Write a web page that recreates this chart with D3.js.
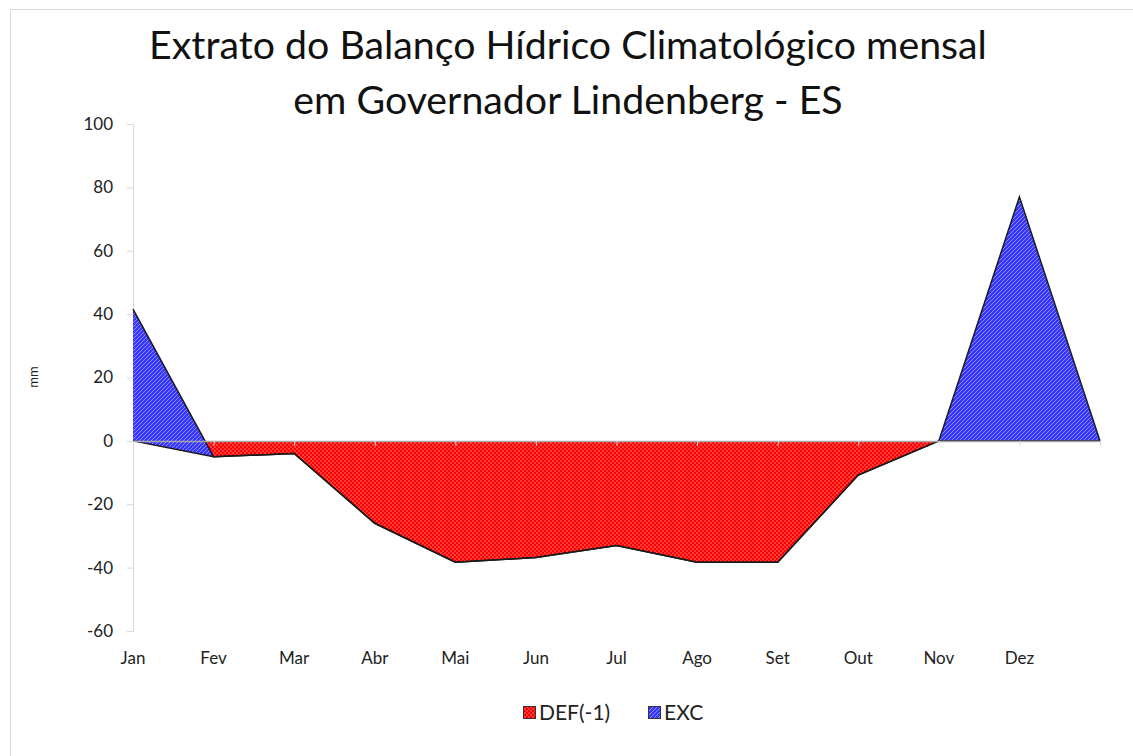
<!DOCTYPE html>
<html>
<head>
<meta charset="utf-8">
<script src="https://cdn.jsdelivr.net/npm/d3@7"></script>
<style>
  body { margin: 0; background: #fff; }
  text { font-family: Lato, "Open Sans", sans-serif; fill: #222; }
</style>
</head>
<body>
<svg id="chart" width="1133" height="756"></svg>
<script>
// months, the last slot is an empty category (Excel row without label)
const categories = ["Jan", "Fev", "Mar", "Abr", "Mai", "Jun", "Jul", "Ago", "Set", "Out", "Nov", "Dez", ""];
const defValues = [0, -5, -4, -26, -38.3, -36.8, -33, -38.3, -38.3, -10.8, 0, 0, 0];
const excValues = [41.6, 0, 0, 0, 0, 0, 0, 0, 0, 0, 0, 77, 0];
const yTicks = [100, 80, 60, 40, 20, 0, -20, -40, -60];
const titleLines = ["Extrato do Balanço Hídrico Climatológico mensal", "em Governador Lindenberg - ES"];
const seriesNames = ["DEF(-1)", "EXC"];

drawChart();

function drawChart () {
  const svg = d3.select("#chart");

  // chart area frame
  svg.append("rect")
    .attr("x", 10.5).attr("y", 9.5)
    .attr("width", 1140).attr("height", 760)
    .attr("fill", "#fff")
    .attr("stroke", "#d9d9d9");

  // fill patterns (coarse checker for DEF, diagonal hatch for EXC)
  const defs = svg.append("defs");
  const redPat = defs.append("pattern")
    .attr("id", "pat-red").attr("patternUnits", "userSpaceOnUse")
    .attr("width", 4).attr("height", 4);
  redPat.append("rect").attr("width", 4).attr("height", 4).attr("fill", "#ff0000");
  redPat.append("rect").attr("x", 0).attr("y", 0).attr("width", 2).attr("height", 2).attr("fill", "#ff3c3c");
  redPat.append("rect").attr("x", 2).attr("y", 2).attr("width", 2).attr("height", 2).attr("fill", "#ff3c3c");
  redPat.selectAll("rect").attr("shape-rendering", "crispEdges");

  const bluePat = defs.append("pattern")
    .attr("id", "pat-blue").attr("patternUnits", "userSpaceOnUse")
    .attr("width", 4).attr("height", 4);
  bluePat.append("rect").attr("width", 4).attr("height", 4).attr("fill", "#3636ff")
    .attr("shape-rendering", "crispEdges");
  bluePat.append("path")
    .attr("d", "M-1,1 L1,-1 M0,4 L4,0 M3,5 L5,3")
    .attr("stroke", "#8c8cff").attr("stroke-width", 1);

  // title
  const title = svg.append("g");
  titleLines.forEach((line, i) => {
    title.append("text")
      .attr("x", 568)
      .attr("y", 59 + i * 55)
      .attr("text-anchor", "middle")
      .style("font-size", "35px")
      .style("fill", "#111")
      .text(line);
  });
  // fit first line to the reference width
  const t0 = title.select("text").node();
  const w0 = t0.getComputedTextLength();
  const fs = 35 * 838 / w0;
  title.selectAll("text").style("font-size", fs + "px");

  const x = d3.scalePoint()
    .domain(d3.range(categories.length))
    .range([133, 1100]);

  const y = d3.scaleLinear()
    .domain([-60, 100])
    .range([631, 124]);

  // y axis
  const yAxis = svg.append("g")
    .attr("transform", "translate(133,0)")
    .call(d3.axisLeft(y).tickValues(yTicks).tickFormat(d => String(d)).tickSize(6).tickPadding(14));
  yAxis.select(".domain").attr("stroke", "#d9d9d9");
  yAxis.selectAll(".tick line").attr("stroke", "#d9d9d9");
  yAxis.selectAll(".tick text")
    .style("font-size", "17px")
    .style("font-family", "Lato, sans-serif")
    .attr("fill", "#222");

  svg.append("text")
    .attr("transform", "translate(38,377) rotate(-90)")
    .attr("text-anchor", "middle")
    .style("font-size", "13px")
    .text("mm");

  // stacked series
  const defTop = defValues;
  const excTop = defValues.map((d, i) => d + excValues[i]);

  const area = d3.area()
    .x((d, i) => x(i))
    .y0(d => y(d[0]))
    .y1(d => y(d[1]));

  const line = d3.line()
    .x((d, i) => x(i))
    .y(d => y(d));

  svg.append("path")
    .datum(defTop.map(d => [0, d]))
    .attr("d", area)
    .attr("fill", "url(#pat-red)");

  svg.append("path")
    .datum(defTop.map((d, i) => [d, excTop[i]]))
    .attr("d", area)
    .attr("fill", "url(#pat-blue)");

  svg.append("path")
    .datum(defTop)
    .attr("d", line)
    .attr("fill", "none")
    .attr("stroke", "#1a1a1a")
    .attr("stroke-width", 1.5);

  svg.append("path")
    .datum(excTop)
    .attr("d", line)
    .attr("fill", "none")
    .attr("stroke", "#1a1a1a")
    .attr("stroke-width", 1.5);

  // x axis at zero
  const xAxis = svg.append("g")
    .attr("transform", `translate(0,${y(0)})`)
    .call(d3.axisBottom(x).tickSize(5).tickSizeOuter(0).tickFormat(() => ""));
  xAxis.select(".domain").attr("stroke", "#a6a6a6").attr("stroke-width", 1.5);
  xAxis.selectAll(".tick line").attr("stroke", "#d9d9d9");

  // month labels at the bottom
  svg.append("g")
    .selectAll("text")
    .data(categories)
    .join("text")
      .attr("x", (d, i) => x(i))
      .attr("y", 664)
      .attr("text-anchor", "middle")
      .style("font-size", "17px")
      .text(d => d);

  // legend
  const legend = svg.append("g");
  const legendItems = [
    { name: seriesNames[0], fill: "url(#pat-red)", x: 523 },
    { name: seriesNames[1], fill: "url(#pat-blue)", x: 648 }
  ];
  legendItems.forEach(item => {
    legend.append("rect")
      .attr("x", item.x + 0.5).attr("y", 706.5)
      .attr("width", 12).attr("height", 12)
      .attr("fill", item.fill)
      .attr("stroke", "#333").attr("stroke-width", 1);
    legend.append("text")
      .attr("x", item.x + 16)
      .attr("y", 720)
      .style("font-size", "21px")
      .text(item.name);
  });
}
</script>
</body>
</html>
